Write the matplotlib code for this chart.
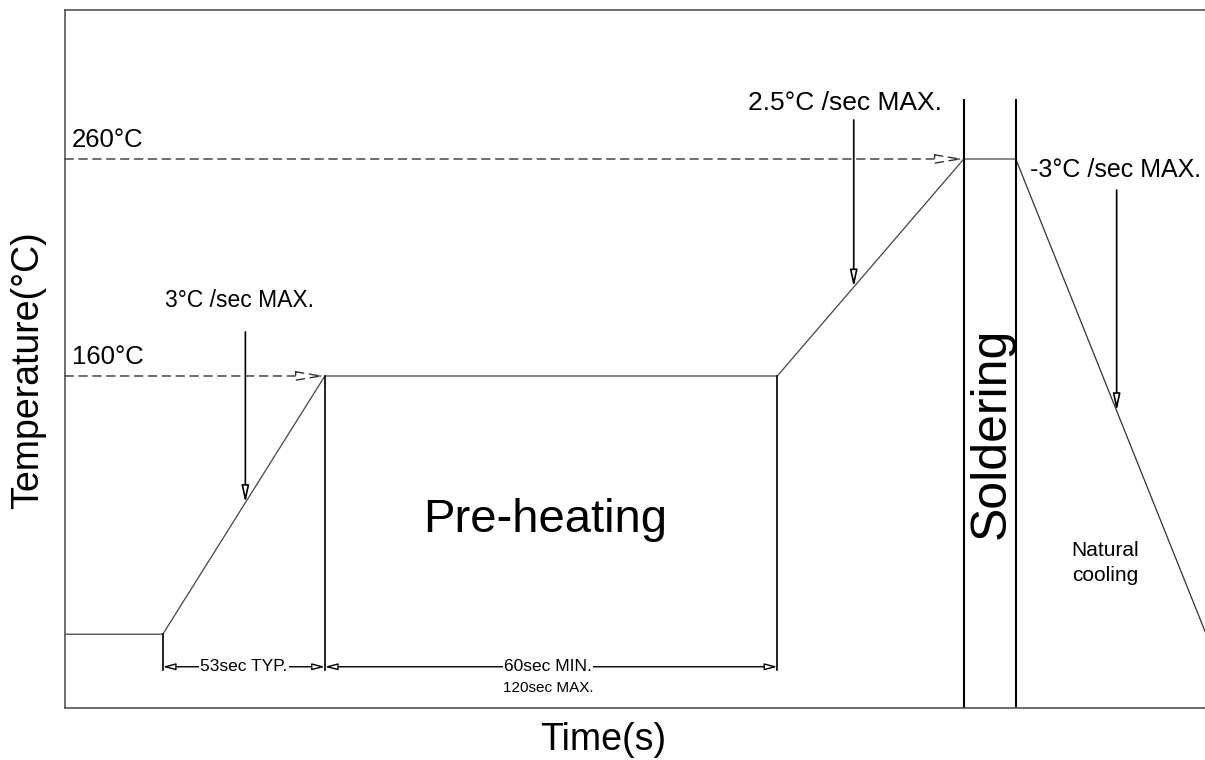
import numpy as np
import matplotlib
matplotlib.use("Agg")
import matplotlib.pyplot as plt

plt.rcParams['font.family'] = ['Liberation Sans', 'DejaVu Sans']

# ---- data (schematic reflow profile) ----
profile_time = [0, 32, 85, 233, 294, 311]          # s (schematic)
profile_temp = [41, 41, 160, 160, 260, 260]        # °C
cooling_time = [311, 373]
cooling_temp = [260, 42]
preheat_temp = 160
peak_temp = 260
temp_labels = ["160°C", "260°C"]
rate_labels = ["3°C /sec MAX.", "2.5°C /sec MAX.", "-3°C /sec MAX."]
rate_times = [59, 258, 344]
solder_times = [294, 311]
dim_labels = ["53sec TYP.", "60sec MIN.", "120sec MAX."]

fig = plt.figure(figsize=(12.05, 7.6), dpi=100)
ax = fig.add_axes([65/1205, 1-708/760, 1-65/1205, (708-10)/760])
ax.set_xlim(0, 372.9)
ax.set_ylim(7.0, 328.66)
ax.set_xticks([]); ax.set_yticks([])
for s in ['top', 'left', 'bottom']:
    ax.spines[s].set_color('#555555'); ax.spines[s].set_linewidth(1.2)
ax.spines['right'].set_visible(False)

# profile
ax.plot(profile_time, profile_temp, color='#444444', lw=0.9)
ax.plot(cooling_time, cooling_temp, color='#333333', lw=0.9)

# dashed reference lines with open arrowheads
for t_end, temp in [(profile_time[2], preheat_temp), (profile_time[4], peak_temp)]:
    ax.annotate('', xy=(t_end, temp), xytext=(0, temp),
                arrowprops=dict(arrowstyle='-|>,head_length=1.8,head_width=0.3',
                                fc='white', ec='#333333', lw=1.0, ls=(0, (6, 4)),
                                shrinkA=0, shrinkB=0))
ax.text(2.3, preheat_temp + 5.5, temp_labels[0], fontsize=18.5, va='baseline', ha='left')
ax.text(2.3, peak_temp + 5.5, temp_labels[1], fontsize=18.5, va='baseline', ha='left')

# soldering lines
for t in solder_times:
    ax.plot([t, t], [7, 287.2], color='black', lw=1.5)

# extension lines
ax.plot([profile_time[1]] * 2, [profile_temp[1], 24.5], color='black', lw=1.2)
ax.plot([profile_time[2]] * 2, [preheat_temp, 24.5], color='black', lw=1.2)
ax.plot([profile_time[3]] * 2, [preheat_temp, 24.5], color='black', lw=1.2)

# rate arrows pointing to the curve
all_t = profile_time + cooling_time[1:]
all_T = profile_temp + cooling_temp[1:]
starts = [180.3, 278.0, 245.7]
for t, y0 in zip(rate_times, starts):
    y1 = np.interp(t, all_t, all_T)
    ax.annotate('', xy=(t, y1), xytext=(t, y0),
                arrowprops=dict(arrowstyle='-|>,head_length=1.0,head_width=0.22',
                                fc='white', ec='black', lw=1.2, shrinkA=0, shrinkB=0))
ax.text(32.7, 191.8, rate_labels[0], fontsize=16.5, va='baseline', ha='left')
ax.text(255.2, 282.6, rate_labels[1], fontsize=19, va='baseline', ha='center')
ax.text(343.5, 251.7, rate_labels[2], fontsize=18, va='baseline', ha='center')

# dimension lines
dim_y = 26
for (a, b) in [(profile_time[1], profile_time[2]), (profile_time[2], profile_time[3])]:
    ax.annotate('', xy=(b, dim_y), xytext=(a, dim_y),
                arrowprops=dict(arrowstyle='<|-|>,head_length=0.75,head_width=0.2',
                                fc='white', ec='black', lw=1.0, shrinkA=0, shrinkB=0))
ax.text((profile_time[1] + profile_time[2]) / 2, dim_y, dim_labels[0], fontsize=12.5,
        ha='center', va='center', bbox=dict(fc='white', ec='none', pad=1.0))
ax.text((profile_time[2] + profile_time[3]) / 2 - 1, dim_y, dim_labels[1], fontsize=12.5,
        ha='center', va='center', bbox=dict(fc='white', ec='none', pad=1.0))
ax.text((profile_time[2] + profile_time[3]) / 2 - 1, 16.2, dim_labels[2], fontsize=11,
        ha='center', va='center')

# region labels
ax.text(157, 93.6, "Pre-heating", fontsize=34, ha='center', va='center')
ax.text(303.2, 133.5, "Soldering", fontsize=36, ha='center', va='center', rotation=90)
ax.text(340.2, 73.8, "Natural\ncooling", fontsize=15, ha='center', va='center', linespacing=1.35)

fig.text(603/1205, 1-740/760, "Time(s)", fontsize=27, ha='center', va='center')
fig.text(28/1205, 1-370/760, "Temperature(°C)", fontsize=27, ha='center', va='center', rotation=90)

fig.savefig("out.png", dpi=100)
